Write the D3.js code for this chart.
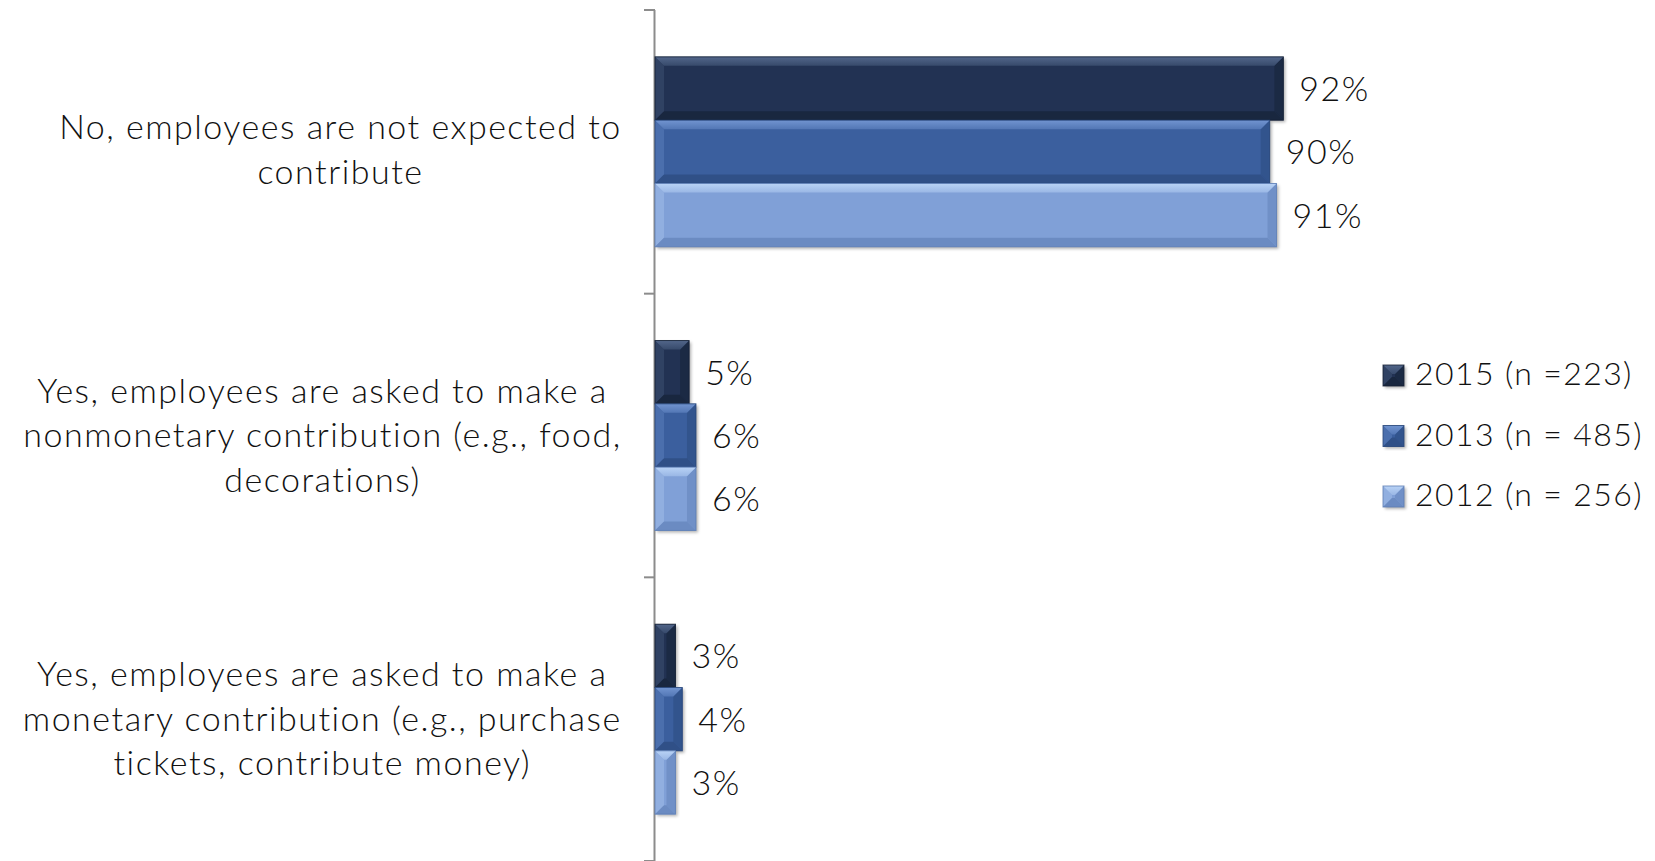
<!DOCTYPE html>
<html>
<head>
<meta charset="utf-8">
<script src="https://cdn.jsdelivr.net/npm/d3@7"></script>
<style>
  html, body { margin: 0; padding: 0; background: #ffffff; }
  svg { display: block; }
  text { font-family: Lato, "Noto Sans", sans-serif; font-weight: 300; fill: #111; }
</style>
</head>
<body>
<svg id="chart" width="1655" height="861"></svg>
<script>
// Survey answers, each drawn as a centred multi-line label
const categories = [
  "No, employees are not expected to|contribute",
  "Yes, employees are asked to make a|nonmonetary contribution (e.g., food,|decorations)",
  "Yes, employees are asked to make a|monetary contribution (e.g., purchase|tickets, contribute money)"
];
const seriesNames = ["2015 (n =223)", "2013 (n = 485)", "2012 (n = 256)"];
const values2015 = [0.92, 0.05, 0.03];
const values2013 = [0.90, 0.06, 0.04];
const values2012 = [0.91, 0.06, 0.03];
const seriesValues = [values2015, values2013, values2012];

// base, bevel highlight, bevel shade
const palette = [
  { base: "#213352", light: "#52668a", dark: "#141f33" },
  { base: "#3b5f9e", light: "#7194d0", dark: "#284678" },
  { base: "#80a0d7", light: "#b9d3f6", dark: "#5d7db4" }
];

const svg = d3.select("#chart");
const defs = svg.append("defs");
const shadow = defs.append("filter").attr("id", "shadow")
  .attr("x", "-20%").attr("y", "-20%").attr("width", "140%").attr("height", "140%");
shadow.append("feDropShadow").attr("dx", 2).attr("dy", 2)
  .attr("stdDeviation", 1.5).attr("flood-color", "#000").attr("flood-opacity", 0.3);

palette.forEach((p, i) => {
  const g = defs.append("linearGradient").attr("id", "top" + i)
    .attr("x1", 0).attr("y1", 0).attr("x2", 0).attr("y2", 1);
  g.append("stop").attr("offset", "0%").attr("stop-color", p.light);
  g.append("stop").attr("offset", "100%").attr("stop-color", d3.interpolateRgb(p.light, p.base)(0.55));
});

const axisX = 655;
const x = d3.scaleLinear().domain([0, 1]).range([axisX, axisX + 683]);
const y0 = d3.scaleBand().domain(categories).range([10, 861]).paddingInner(0).paddingOuter(0);
const y1 = d3.scaleBand().domain(seriesNames).range([0, y0.bandwidth()]).paddingInner(0).paddingOuter(0.74);

// Vertical category axis with ticks on band boundaries
const axisG = svg.append("g");
axisG.append("line")
  .attr("x1", axisX - 0.5).attr("x2", axisX - 0.5)
  .attr("y1", y0.range()[0]).attr("y2", y0.range()[1])
  .attr("stroke", "#8c8c8c").attr("stroke-width", 2);
const bounds = categories.map(c => y0(c)).concat([y0.range()[1]]);
axisG.selectAll("line.tick").data(bounds).join("line")
  .attr("class", "tick")
  .attr("x1", axisX - 11).attr("x2", axisX)
  .attr("y1", d => d).attr("y2", d => d)
  .attr("stroke", "#8c8c8c").attr("stroke-width", 2);

// Bevelled bar drawn from a rectangle
function bevelBar(g, bx, by, w, h, si) {
  const p = palette[si];
  const b = Math.min(9, w / 2, h / 2);
  const grp = g.append("g");
  grp.append("rect").attr("x", bx).attr("y", by).attr("width", w).attr("height", h)
    .attr("fill", p.base).attr("filter", "url(#shadow)");
  const poly = pts => pts.map(q => q.join(",")).join(" ");
  // left
  grp.append("polygon").attr("points", poly([[bx, by], [bx + b, by + b], [bx + b, by + h - b], [bx, by + h]]))
    .attr("fill", d3.interpolateRgb(p.base, p.light)(0.3));
  // right
  grp.append("polygon").attr("points", poly([[bx + w, by], [bx + w, by + h], [bx + w - b, by + h - b], [bx + w - b, by + b]]))
    .attr("fill", d3.interpolateRgb(p.base, p.dark)(0.45));
  // bottom
  grp.append("polygon").attr("points", poly([[bx, by + h], [bx + w, by + h], [bx + w - b, by + h - b], [bx + b, by + h - b]]))
    .attr("fill", d3.interpolateRgb(p.base, p.dark)(0.6));
  // top
  grp.append("polygon").attr("points", poly([[bx, by], [bx + w, by], [bx + w - b, by + b], [bx + b, by + b]]))
    .attr("fill", `url(#top${si})`);
  grp.append("rect").attr("x", bx).attr("y", by).attr("width", w).attr("height", h)
    .attr("fill", "none").attr("stroke", p.dark).attr("stroke-width", 1).attr("stroke-opacity", 0.8);
}

const barsG = svg.append("g");
categories.forEach((cat, ci) => {
  seriesNames.forEach((s, si) => {
    const v = seriesValues[si][ci];
    const by = y0(cat) + y1(s);
    const w = x(v) - x(0);
    bevelBar(barsG, x(0), by, w, y1.bandwidth(), si);
    barsG.append("text")
      .attr("x", x(v) + 16)
      .attr("y", by + y1.bandwidth() / 2 - 1)
      .attr("dominant-baseline", "central")
      .attr("font-size", 34)
      .attr("letter-spacing", 1.5)
      .text(d3.format(".0%")(v));
  });
});

// Category labels: lines centred on the widest line, block right-aligned to the axis
const labelRight = 621;
const lineGap = 44.5;
const labelSpacing = 1.5;
const labelsG = svg.append("g");
categories.forEach((cat, ci) => {
  const lines = cat.split("|");
  const tmp = labelsG.append("g");
  const texts = lines.map(l => tmp.append("text")
    .attr("font-size", 34).attr("letter-spacing", labelSpacing).text(l));
  const maxW = d3.max(texts, t => t.node().getComputedTextLength());
  const cx = Math.max(labelRight - maxW / 2, maxW / 2 + 4) + labelSpacing / 2;
  const cy = y0(cat) + y0.bandwidth() / 2 - (ci === 0 ? 4 : 2);
  texts.forEach((t, i) => {
    t.attr("x", cx).attr("text-anchor", "middle")
      .attr("y", cy + (i - (lines.length - 1) / 2) * lineGap)
      .attr("dominant-baseline", "central");
  });
});

// Legend
const legendG = svg.append("g");
const legendY = d3.scalePoint().domain(seriesNames).range([375.5, 496.5]);
seriesNames.forEach((s, si) => {
  const cy = legendY(s);
  bevelBar(legendG, 1383, cy - 10.5, 21, 21, si);
  legendG.append("text")
    .attr("x", 1415).attr("y", cy - 3)
    .attr("dominant-baseline", "central")
    .attr("font-size", 32)
    .attr("letter-spacing", 1.4)
    .text(s);
});
</script>
</body>
</html>
